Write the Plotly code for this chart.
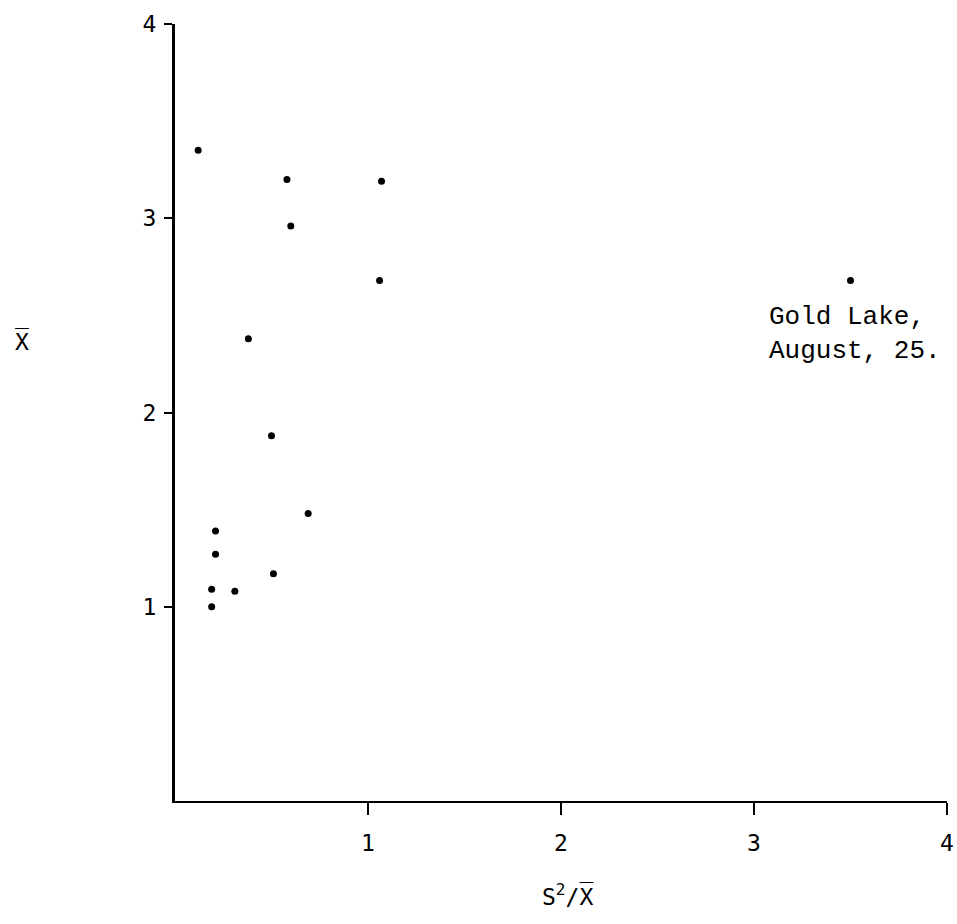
import plotly.graph_objects as go

# Values: s^2/mean (x) and mean (y)
dispersion = [0.12, 0.58, 1.07, 0.60, 1.06, 0.38, 0.50, 0.69, 0.21, 0.21, 0.51, 0.19, 0.31, 0.19, 3.50]
mean_count = [3.35, 3.20, 3.19, 2.96, 2.68, 2.38, 1.88, 1.48, 1.39, 1.27, 1.17, 1.09, 1.08, 1.00, 2.68]

x_ticks = [1, 2, 3, 4]
y_ticks = [1, 2, 3, 4]
note_text = "Gold Lake,<br>August, 25."
x_title = "S<sup>2</sup>/X\u0305"
y_title = "X\u0305"

fig = go.Figure()
fig.add_trace(go.Scatter(
    x=dispersion, y=mean_count, mode="markers",
    marker=dict(color="black", size=7),
    showlegend=False, hoverinfo="skip",
))

tick_font = dict(family="DejaVu Sans Mono", size=23, color="black")

fig.update_layout(
    width=957, height=924,
    margin=dict(l=175, r=10, t=24, b=123),
    paper_bgcolor="white", plot_bgcolor="white",
    xaxis=dict(
        range=[0, 4], tickvals=x_ticks, ticktext=[str(v) for v in x_ticks],
        showgrid=False, zeroline=False, showline=True, linecolor="black", linewidth=2,
        ticks="outside", ticklen=12, tickwidth=2, tickcolor="black",
        tickfont=tick_font, ticklabelstandoff=8, automargin=False,
        ticklabeloverflow="allow",
    ),
    yaxis=dict(
        range=[0, 4], tickvals=y_ticks, ticktext=[str(v) for v in y_ticks],
        showgrid=False, zeroline=False, showline=True, linecolor="black", linewidth=3,
        ticks="outside", ticklen=8, tickwidth=2, tickcolor="black",
        tickfont=tick_font, ticklabelstandoff=3, automargin=False,
        ticklabeloverflow="allow",
    ),
)

fig.add_annotation(
    x=3.067, y=2.58, xref="x", yref="y", text=note_text, showarrow=False,
    xanchor="left", yanchor="top", align="left",
    font=dict(family="Liberation Mono", size=26, color="black"),
)
fig.add_annotation(
    x=0.509, y=-0.121, xref="paper", yref="paper", text=x_title, showarrow=False,
    xanchor="center", yanchor="middle",
    font=dict(family="DejaVu Sans Mono", size=23, color="black"),
)
fig.add_annotation(
    x=-0.198, y=0.592, xref="paper", yref="paper", text=y_title, showarrow=False,
    xanchor="center", yanchor="middle",
    font=dict(family="DejaVu Sans Mono", size=23, color="black"),
)

fig.write_html(
    "out.html",
    config={"displayModeBar": False},
    post_script="document.body.style.margin='0px'; document.body.style.overflow='hidden';",
)
